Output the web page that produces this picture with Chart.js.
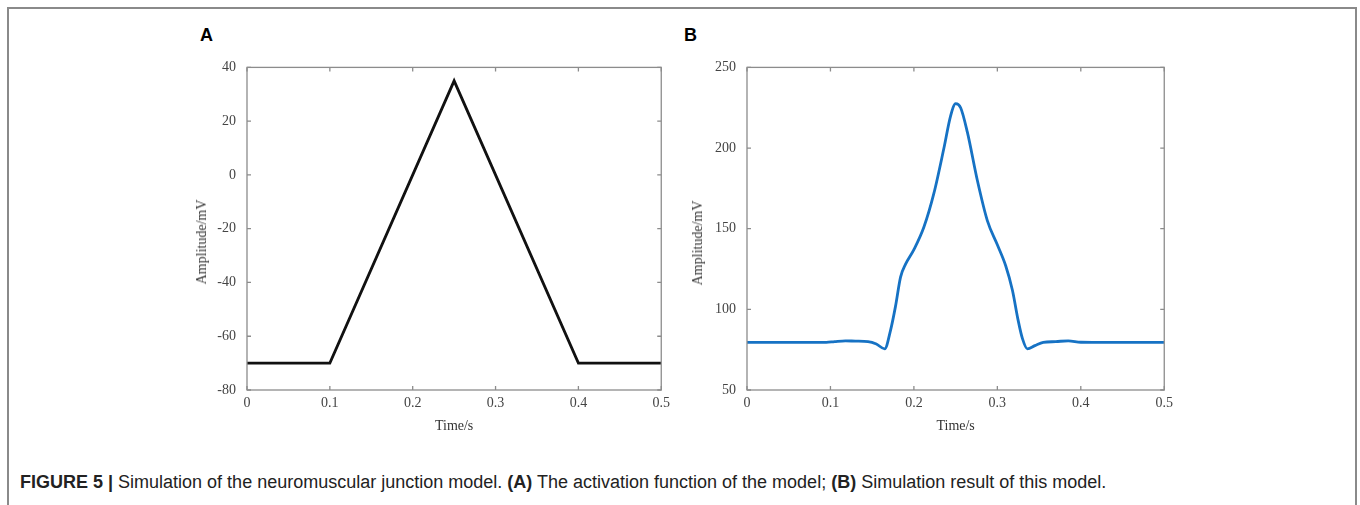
<!DOCTYPE html>
<html>
<head>
<meta charset="utf-8">
<script src="https://cdn.jsdelivr.net/npm/chart.js"></script>
<style>
  body { margin: 0; background: #fff; width: 1360px; height: 505px; overflow: hidden; position: relative; }
  #frame { position: absolute; left: 7px; top: 7px; width: 1346px; height: 520px; border: 2px solid #8a8a8a; border-bottom: none; }
  canvas { position: absolute; }
  .panel { position: absolute; font-family: "Liberation Sans", Arial, sans-serif; font-weight: bold; font-size: 18px; color: #000; }
  .ytitle { position: absolute; font-family: "Liberation Serif", "Times New Roman", serif; font-size: 14px; color: #333;
            transform: translate(-50%, -50%) rotate(-90deg); white-space: nowrap; }
  #caption { position: absolute; left: 20px; top: 472px; font-family: "Liberation Sans", Arial, sans-serif; font-size: 18px; color: #222; white-space: nowrap; }
</style>
</head>
<body>
<div id="frame"></div>
<div class="panel" style="left:200px; top:25px;">A</div>
<div class="panel" style="left:684px; top:25px;">B</div>
<canvas id="chartA" width="485" height="397" style="left:190px; top:48px;"></canvas>
<canvas id="chartB" width="491" height="397" style="left:687px; top:48px;"></canvas>
<div class="ytitle" style="left:202px; top:242px;">Amplitude/mV</div>
<div class="ytitle" style="left:698px; top:243px;">Amplitude/mV</div>
<div id="caption"><b>FIGURE 5 |</b> Simulation of the neuromuscular junction model. <b>(A)</b> The activation function of the model; <b>(B)</b> Simulation result of this model.</div>
<script>
// Panel A: activation function (piecewise linear)
const timeA = [0, 0.1, 0.25, 0.4, 0.5];
const ampA = [-70, -70, 35, -70, -70];

// Panel B: simulation result
const timeB = [0, 0.05, 0.095, 0.105, 0.118, 0.13, 0.145, 0.155, 0.165, 0.172, 0.178, 0.184, 0.19, 0.2,
               0.212, 0.224, 0.236, 0.244, 0.25, 0.256, 0.264, 0.276, 0.288, 0.3, 0.31, 0.318, 0.325,
               0.33, 0.336, 0.345, 0.355, 0.37, 0.385, 0.4, 0.42, 0.5];
const ampB = [79.5, 79.5, 79.5, 80, 80.5, 80.3, 80, 78.5, 75.5, 87, 102, 120, 128, 137,
              151, 172, 200, 220, 227.5, 225, 210, 180, 155, 140, 127, 112, 93,
              82, 75.5, 77.5, 79.5, 80, 80.5, 79.6, 79.5, 79.5];

const xTicks = [0, 0.1, 0.2, 0.3, 0.4, 0.5];
const xTickLabels = ['0', '0.1', '0.2', '0.3', '0.4', '0.5'];
const yTicksA = [-80, -60, -40, -20, 0, 20, 40];
const yTicksB = [50, 100, 150, 200, 250];

Chart.defaults.animation = false;
Chart.defaults.font.family = '"Liberation Serif", "Times New Roman", serif';
Chart.defaults.color = '#444';

// frame around the plot area plus small inward ticks on all four sides
const innerTicks = {
    id: 'innerTicks',
    afterDraw(chart) {
        const c = chart.ctx;
        const a = chart.chartArea;
        const xs = chart.scales.x, ys = chart.scales.y;
        c.save();
        c.strokeStyle = '#8c8c8c';
        c.lineWidth = 1.3;
        c.strokeRect(a.left, a.top, a.right - a.left, a.bottom - a.top);
        c.beginPath();
        xs.ticks.forEach(t => {
            const px = xs.getPixelForValue(t.value);
            c.moveTo(px, a.bottom); c.lineTo(px, a.bottom - 4);
            c.moveTo(px, a.top); c.lineTo(px, a.top + 4);
        });
        ys.ticks.forEach(t => {
            const py = ys.getPixelForValue(t.value);
            c.moveTo(a.left, py); c.lineTo(a.left + 4, py);
            c.moveTo(a.right, py); c.lineTo(a.right - 4, py);
        });
        c.stroke();
        c.restore();
    }
};

function makeChart(id, xs, ys, color, yMin, yMax, yTicks, yWidth, smooth) {
    return new Chart(document.getElementById(id), {
        type: 'line',
        data: {
            datasets: [{
                data: xs.map((x, i) => ({ x: x, y: ys[i] })),
                borderColor: color,
                borderWidth: 2.8,
                pointRadius: 0,
                fill: false,
                cubicInterpolationMode: smooth ? 'monotone' : 'default',
                tension: 0
            }]
        },
        options: {
            responsive: false,
            layout: { padding: { top: 5, right: 3, left: 0, bottom: 0 } },
            plugins: { legend: { display: false }, tooltip: { enabled: false } },
            scales: {
                x: {
                    type: 'linear',
                    min: 0, max: 0.5,
                    afterBuildTicks: s => { s.ticks = xTicks.map(v => ({ value: v })); },
                    afterFit: s => { s.height = 55; },
                    grid: { drawOnChartArea: false, drawTicks: false },
                    border: { display: false },
                    ticks: {
                        padding: 5,
                        font: { size: 14 },
                        callback: (v) => xTickLabels[xTicks.indexOf(v)]
                    },
                    title: {
                        display: true,
                        text: 'Time/s',
                        color: '#333',
                        font: { size: 14 },
                        padding: { top: 0, bottom: 10 }
                    }
                },
                y: {
                    min: yMin, max: yMax,
                    afterBuildTicks: s => { s.ticks = yTicks.map(v => ({ value: v })); },
                    afterFit: s => { s.width = yWidth; },
                    grid: { drawOnChartArea: false, drawTicks: false },
                    border: { display: false },
                    ticks: {
                        padding: 11,
                        font: { size: 14 },
                        callback: (v) => String(v)
                    }
                }
            }
        },
        plugins: [innerTicks]
    });
}

makeChart('chartA', timeA, ampA, '#111111', -80, 40, yTicksA, 57, false);
makeChart('chartB', timeB, ampB, '#1672c4', 50, 250, yTicksB, 60, true);
</script>
</body>
</html>
